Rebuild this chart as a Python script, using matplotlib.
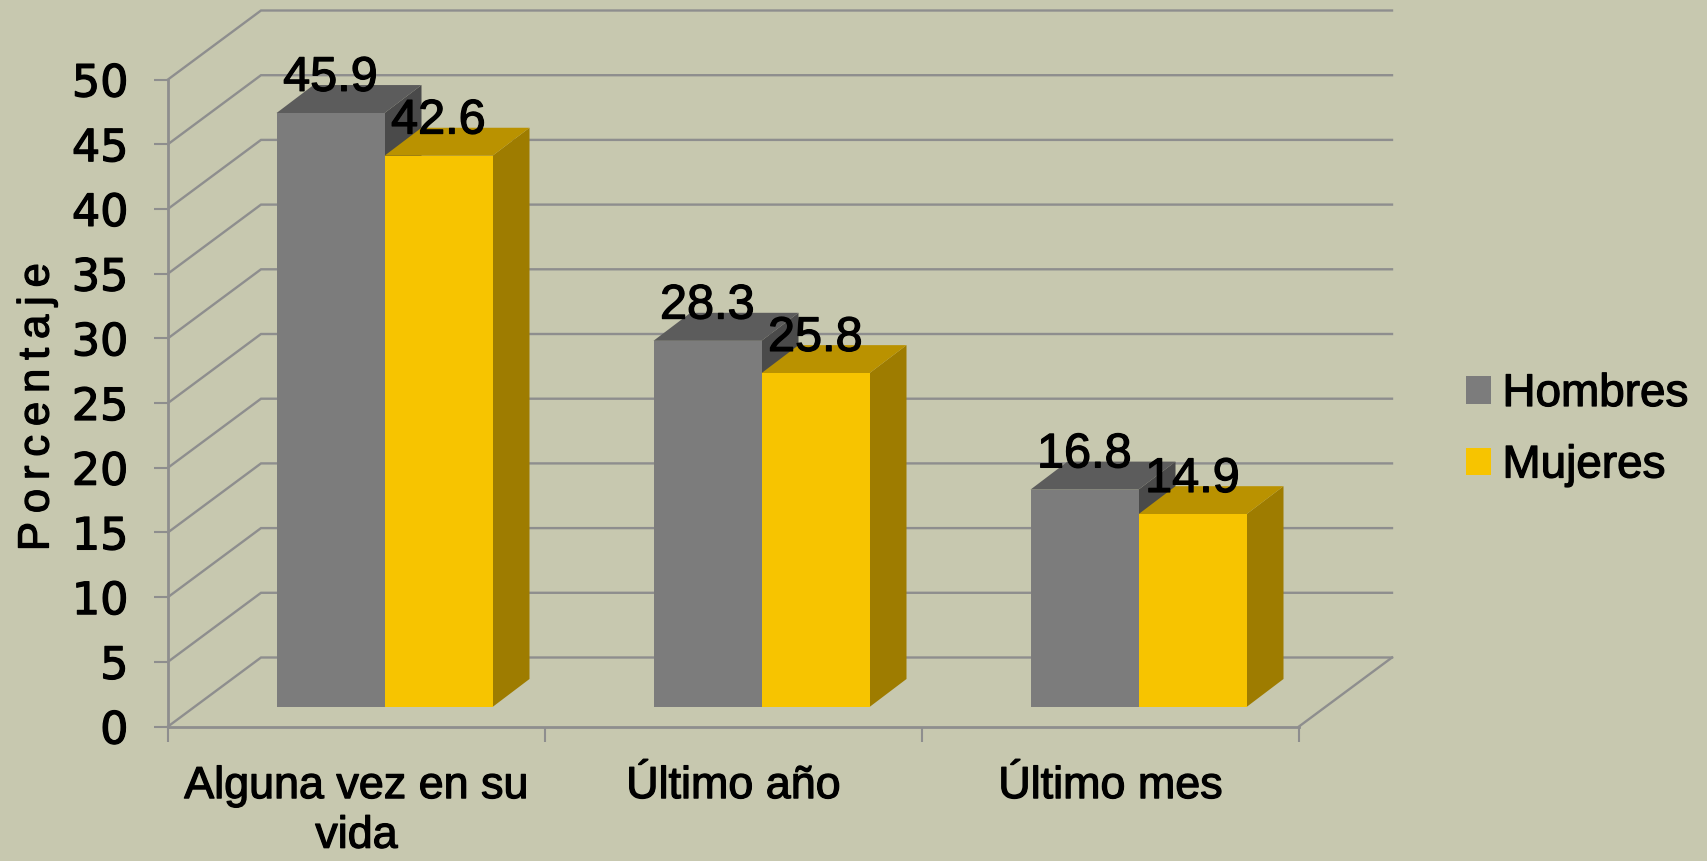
import matplotlib
matplotlib.use("Agg")
import matplotlib.pyplot as plt
from matplotlib.patches import Patch
import matplotlib.patheffects as pe

categories = ["Alguna vez en su\nvida", "Último año", "Último mes"]
hombres = [45.9, 28.3, 16.8]
mujeres = [42.6, 25.8, 14.9]
y_ticks = list(range(0, 51, 5))
series_names = ["Hombres", "Mujeres"]
y_axis_label = "P\u2009o\u2009r\u2009c\u2009e\u2009n\u2009t\u2009a\u2009j\u2009e"

W, H = 1707, 862
BG = "#C7C8AF"
GRID = "#8E8E8E"
C_H = ("#7C7C7C", "#5C5C5C", "#4A4A4A")
C_M = ("#F7C400", "#BA9200", "#9E7C00")
FAT = [pe.withStroke(linewidth=0.9, foreground="black")]

fig = plt.figure(figsize=(W / 100, H / 100), dpi=100, facecolor=BG)
L, R, B, T = 168, 1299, 727.5, 80.5
ax = fig.add_axes([L / W, 1 - B / H, (R - L) / W, (B - T) / H])
ax.set_xlim(0, 3)
ax.set_ylim(0, 50)
ax.patch.set_alpha(0)

px_x = 3 / (R - L)
px_y = 50 / (B - T)
# floor depth, bar depth and bar offset from the front edge (px -> data units)
DX, DY = 93 * px_x, 69 * px_y
BDX, BDY = 37 * px_x, 28 * px_y
FX, FY = 28 * px_x, 19.5 * px_y
BW = 108 * px_x

for v in y_ticks:
    ax.plot([0, DX, 3 + DX], [v, v + DY, v + DY], color=GRID, lw=1.7,
            clip_on=False, zorder=1, solid_joinstyle="miter")
ax.plot([3, 3 + DX], [0, DY], color=GRID, lw=1.7, clip_on=False, zorder=1)


def bar3d(x0, val, cols):
    y0 = FY
    y1 = val + FY
    x1 = x0 + BW
    ax.fill([x1, x1 + BDX, x1 + BDX, x1], [y0, y0 + BDY, y1 + BDY, y1],
            color=cols[2], lw=0, clip_on=False, zorder=3)
    ax.fill([x0, x0 + BDX, x1 + BDX, x1], [y1, y1 + BDY, y1 + BDY, y1],
            color=cols[1], lw=0, clip_on=False, zorder=3)
    ax.bar(x0, val, width=BW, bottom=y0, align="edge", color=cols[0], lw=0,
           clip_on=False, zorder=3)
    ax.annotate(f"{val:.1f}", (x0 + BW / 2, y1), xytext=(0, 16),
                textcoords="offset points", ha="center", va="baseline",
                fontsize=35, family="Liberation Sans", color="black",
                zorder=6, annotation_clip=False, path_effects=FAT)


for i in range(len(categories)):
    c = i + 0.5 + FX
    bar3d(c - BW, hombres[i], C_H)
    bar3d(c, mujeres[i], C_M)

for s in ("top", "right"):
    ax.spines[s].set_visible(False)
for s in ("left", "bottom"):
    ax.spines[s].set_color(GRID)
    ax.spines[s].set_linewidth(2.0)
    ax.spines[s].set_zorder(2)

ax.set_yticks(y_ticks)
ax.set_xticks(range(4))
ax.set_xticks([0.5, 1.5, 2.5], minor=True)
ax.set_xticklabels([])
ax.set_xticklabels(categories, minor=True, fontsize=32.3, family="Liberation Sans",
                   linespacing=1.27, path_effects=FAT)
ax.tick_params(axis="x", which="major", length=10.5, width=1.5, color=GRID)
ax.tick_params(axis="x", which="minor", length=0, pad=28.5)
ax.tick_params(axis="y", length=10, width=1.5, color=GRID, pad=18.5, labelsize=32)
for lb in ax.get_yticklabels():
    lb.set_family("DejaVu Sans")
    lb.set_path_effects(FAT)

fig.text(37 / W, 1 - 408 / H, y_axis_label, rotation=90, ha="center", va="center",
         fontsize=31.5, family="Liberation Sans", path_effects=FAT)

handles = [Patch(color=C_H[0], lw=0), Patch(color=C_M[0], lw=0)]
leg = fig.legend(handles, series_names, loc="upper left",
                 bbox_to_anchor=(1466 / W, 1 - 373 / H), frameon=False,
                 handlelength=0.5455, handleheight=0.5455, handletextpad=0.25,
                 labelspacing=0.6, borderpad=0, borderaxespad=0,
                 prop={"family": "Liberation Sans", "size": 33})
for t in leg.get_texts():
    t.set_path_effects(FAT)

fig.savefig("out.png", dpi=100, facecolor=BG)
